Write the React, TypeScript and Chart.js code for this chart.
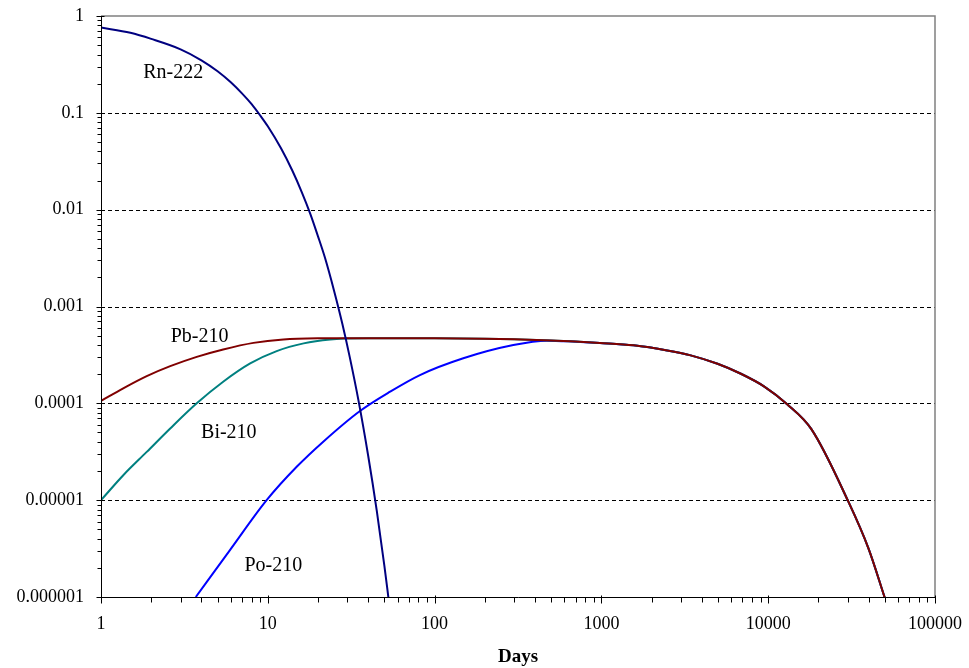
import { useEffect, useRef } from 'react';
import { Chart, registerables } from 'chart.js';

Chart.register(...registerables);

// Activity of the Rn-222 decay chain members against elapsed time (days)
const rnDays = [1, 1.5, 2, 3, 4, 5, 6, 7, 8, 9, 10, 12, 14, 16, 18, 20, 22, 25, 28, 31, 35, 40, 45, 50, 53];
const rnValues = [
  0.76, 0.67, 0.58, 0.453, 0.349, 0.269, 0.207, 0.159, 0.123, 0.094, 0.0726, 0.043, 0.0255, 0.0151,
  0.009, 0.0053, 0.0032, 0.00144, 0.00066, 0.0003, 0.000106, 0.0000286, 0.0000078, 0.0000021, 0.00000095,
];

const pbDays = [
  1, 1.36, 1.88, 2.6, 3.75, 5.4, 8.2, 12.4, 20, 40, 100, 200, 300, 500, 700, 980, 1560, 2480, 3430, 4970,
  6860, 9480, 12940, 18150, 30200, 39900, 50200,
];
const pbValues = [
  1.06e-4, 1.43e-4, 1.91e-4, 2.42e-4, 3.02e-4, 3.6e-4, 4.21e-4, 4.57e-4, 4.69e-4, 4.71e-4, 4.7e-4, 4.64e-4,
  4.58e-4, 4.46e-4, 4.34e-4, 4.2e-4, 3.97e-4, 3.52e-4, 3.13e-4, 2.56e-4, 2.02e-4, 1.49e-4, 9.84e-5, 5.41e-5,
  9.7e-6, 3.18e-6, 9.6e-7,
];

const biDays = [
  1, 1.36, 1.88, 2.6, 3.75, 5.4, 7.84, 11.3, 16.4, 23.7, 30, 40, 100, 200, 300, 500, 700, 980, 1560, 2480,
  3430, 4970, 6860, 9480, 12940, 18150, 30200, 39900, 50200,
];
const biValues = [
  1.0e-5, 1.81e-5, 3.15e-5, 5.5e-5, 1.0e-4, 1.67e-4, 2.58e-4, 3.46e-4, 4.16e-4, 4.57e-4, 4.67e-4, 4.71e-4,
  4.7e-4, 4.64e-4, 4.58e-4, 4.46e-4, 4.34e-4, 4.2e-4, 3.97e-4, 3.52e-4, 3.13e-4, 2.56e-4, 2.02e-4, 1.49e-4,
  9.84e-5, 5.41e-5, 9.7e-6, 3.18e-6, 9.6e-7,
];

const poDays = [
  3.7, 5.93, 9.84, 14.9, 21.5, 35.7, 54.1, 81.7, 148.6, 296.5, 470, 700, 980, 1560, 2480, 3430, 4970, 6860,
  9480, 12940, 18150, 30200, 39900, 50200,
];
const poValues = [
  1.0e-6, 3.05e-6, 1.0e-5, 2.21e-5, 4.02e-5, 8.34e-5, 1.32e-4, 1.96e-4, 2.92e-4, 4.0e-4, 4.44e-4, 4.33e-4,
  4.2e-4, 3.97e-4, 3.52e-4, 3.13e-4, 2.56e-4, 2.02e-4, 1.49e-4, 9.84e-5, 5.41e-5, 9.7e-6, 3.18e-6, 9.6e-7,
];

const seriesNames = ['Rn-222', 'Pb-210', 'Bi-210', 'Po-210'];
const seriesColors = ['#000080', '#800000', '#008080', '#0000FF'];

// Where each nuclide's name is written (days, activity at the text baseline)
const labelDays = [2.71, 3.9, 5.84, 10.8];
const labelValues = [0.227, 4.33e-4, 4.42e-5, 1.85e-6];

const xTickValues = [1, 10, 100, 1000, 10000, 100000];
const xTickLabels = ['1', '10', '100', '1000', '10000', '100000'];
const yTickValues = [0.000001, 0.00001, 0.0001, 0.001, 0.01, 0.1, 1];
const yTickLabels = ['0.000001', '0.00001', '0.0001', '0.001', '0.01', '0.1', '1'];

const xTitle = 'Days';
const SERIF = "'Liberation Serif', 'Times New Roman', serif";

const toPoints = (days: number[], values: number[]) => days.map((d, i) => ({ x: d, y: values[i] }));

// Dashed decade gridlines, grey frame, black axes with major/minor tick marks, curve names
const decorations = {
  id: 'decorations',
  beforeDatasetsDraw(chart: any) {
    const { ctx, chartArea, scales } = chart;
    const { left, right, top, bottom } = chartArea;
    const y = scales.y;
    ctx.save();
    ctx.strokeStyle = '#000';
    ctx.lineWidth = 1;
    ctx.setLineDash([4, 3]);
    for (const v of yTickValues) {
      if (v === 1 || v === 0.000001) continue;
      const py = Math.round(y.getPixelForValue(v)) + 0.5;
      ctx.beginPath();
      ctx.moveTo(left, py);
      ctx.lineTo(right, py);
      ctx.stroke();
    }
    ctx.setLineDash([]);
    ctx.strokeStyle = '#808080';
    ctx.lineWidth = 1.5;
    ctx.beginPath();
    ctx.moveTo(left, top);
    ctx.lineTo(right, top);
    ctx.lineTo(right, bottom);
    ctx.stroke();
    ctx.restore();
  },
  afterDatasetsDraw(chart: any) {
    const { ctx, chartArea, scales } = chart;
    const { left, right, top, bottom } = chartArea;
    const x = scales.x;
    const y = scales.y;
    ctx.save();
    ctx.strokeStyle = '#000';
    ctx.lineWidth = 1;
    const ax = Math.round(left) + 0.5;
    const ay = Math.round(bottom) + 0.5;
    ctx.beginPath();
    ctx.moveTo(ax, top);
    ctx.lineTo(ax, ay);
    ctx.lineTo(right, ay);
    // y ticks
    for (let e = -6; e <= 0; e++) {
      const base = Math.pow(10, e);
      const py = Math.round(y.getPixelForValue(base)) + 0.5;
      ctx.moveTo(ax - 5, py);
      ctx.lineTo(ax + 3, py);
      if (e < 0) {
        for (let k = 2; k <= 9; k++) {
          const pm = Math.round(y.getPixelForValue(k * base)) + 0.5;
          ctx.moveTo(ax - 4, pm);
          ctx.lineTo(ax, pm);
        }
      }
    }
    // x ticks
    for (let e = 0; e <= 5; e++) {
      const base = Math.pow(10, e);
      const px = Math.round(x.getPixelForValue(base)) + 0.5;
      ctx.moveTo(px, ay - 2);
      ctx.lineTo(px, ay + 6);
      if (e < 5) {
        for (let k = 2; k <= 9; k++) {
          const pm = Math.round(x.getPixelForValue(k * base)) + 0.5;
          ctx.moveTo(pm, ay);
          ctx.lineTo(pm, ay + 5);
        }
      }
    }
    ctx.stroke();

    ctx.fillStyle = '#000';
    ctx.font = `20px ${SERIF}`;
    ctx.textAlign = 'center';
    ctx.textBaseline = 'alphabetic';
    seriesNames.forEach((name, i) => {
      ctx.fillText(name, x.getPixelForValue(labelDays[i]), y.getPixelForValue(labelValues[i]));
    });
    ctx.restore();
  },
};

// Tick marks are drawn by the plugin; the scale's own tick space (transparent) just offsets the labels
const hiddenTickGrid = (length: number) => ({
  display: true,
  drawOnChartArea: false,
  drawTicks: true,
  tickLength: length,
  color: 'rgba(0,0,0,0)',
  tickColor: 'rgba(0,0,0,0)',
});

export default function App() {
  const canvasRef = useRef<HTMLCanvasElement | null>(null);

  useEffect(() => {
    const canvas = canvasRef.current;
    if (!canvas) return;
    const series = [
      [rnDays, rnValues],
      [pbDays, pbValues],
      [biDays, biValues],
      [poDays, poValues],
    ];
    const chart = new Chart(canvas, {
      type: 'scatter',
      data: {
        datasets: series.map(([d, v], i) => ({
          label: seriesNames[i],
          data: toPoints(d, v),
          showLine: true,
          borderColor: seriesColors[i],
          backgroundColor: seriesColors[i],
          borderWidth: 2,
          pointRadius: 0,
          pointHoverRadius: 0,
          cubicInterpolationMode: 'monotone',
        })),
      },
      options: {
        animation: false,
        responsive: false,
        devicePixelRatio: 1,
        events: [],
        layout: { padding: { left: 0, top: 16, right: 34, bottom: 0 } },
        plugins: { legend: { display: false }, tooltip: { enabled: false }, title: { display: false } },
        scales: {
          x: {
            type: 'logarithmic',
            min: 1,
            max: 100000,
            grid: hiddenTickGrid(16),
            border: { display: false },
            afterBuildTicks: (s: any) => {
              s.ticks = xTickValues.map((value) => ({ value }));
            },
            afterFit: (s: any) => {
              s.height = 71;
            },
            ticks: {
              autoSkip: false,
              maxRotation: 0,
              padding: 0,
              color: '#000',
              font: { family: SERIF, size: 18 },
              callback: (value: any) => xTickLabels[xTickValues.indexOf(Number(value))] ?? '',
            },
            title: {
              display: true,
              text: xTitle,
              color: '#000',
              font: { family: SERIF, size: 19, weight: 'bold' },
              padding: { top: 0, bottom: 0 },
            },
          },
          y: {
            type: 'logarithmic',
            min: 0.000001,
            max: 1,
            grid: hiddenTickGrid(17),
            border: { display: false },
            afterBuildTicks: (s: any) => {
              s.ticks = yTickValues.map((value) => ({ value }));
            },
            afterFit: (s: any) => {
              s.width = 101;
            },
            ticks: {
              autoSkip: false,
              padding: 0,
              color: '#000',
              font: { family: SERIF, size: 18 },
              callback: (value: any) => yTickLabels[yTickValues.indexOf(Number(value))] ?? '',
            },
          },
        },
      },
      plugins: [decorations],
    } as any);
    return () => chart.destroy();
  }, []);

  return (
    <div style={{ position: 'fixed', left: 0, top: 0, width: 969, height: 668, background: '#fff' }}>
      <canvas ref={canvasRef} width={969} height={668} style={{ display: 'block' }} />
    </div>
  );
}
